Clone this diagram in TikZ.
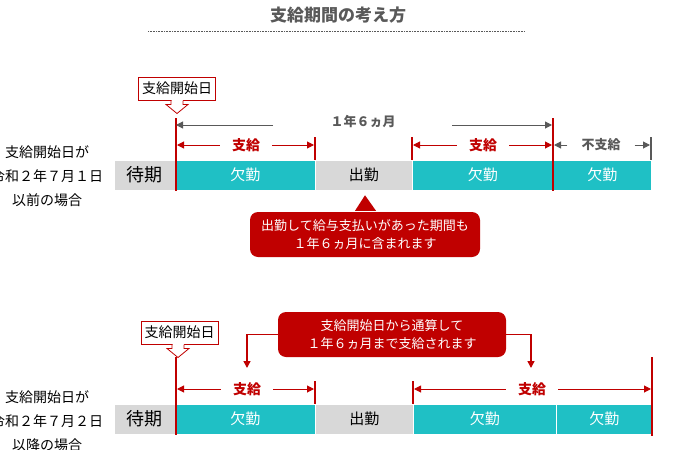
\documentclass[tikz,border=0pt]{standalone}
\usepackage{fontspec}
\setmainfont{Noto Sans CJK JP}
\usetikzlibrary{arrows.meta}
\definecolor{myred}{RGB}{192,0,0}
\definecolor{tealc}{RGB}{31,192,197}
\definecolor{lgray}{RGB}{216,216,216}
\definecolor{dgray}{RGB}{89,89,89}
\begin{document}
\begin{tikzpicture}[x=1pt,y=-1pt,
  bar/.style={minimum height=30pt, inner sep=0pt, anchor=west, draw=white, line width=0.5pt},
  waitbar/.style={bar, fill=lgray, font=\fontsize{18}{18}\selectfont},
  workbar/.style={bar, fill=lgray, font=\fontsize{15}{15}\selectfont},
  absbar/.style={bar, fill=tealc, text=white, font=\fontsize{15}{15}\selectfont},
  redline/.style={myred, line width=2pt},
  rarrow/.style={myred, line width=1pt, -{Triangle[length=7pt,width=7pt]}},
  garrow/.style={dgray, line width=1pt, -{Triangle[length=7pt,width=7pt]}},
  redlabel/.style={text=myred, font=\fontsize{14}{14}\selectfont\bfseries, inner sep=0pt},
  graylabel/.style={text=dgray, font=\fontsize{13}{13}\selectfont\bfseries, inner sep=0pt},
  startbox/.style={draw=myred, line width=1pt, fill=white, inner sep=2pt, minimum width=77pt, minimum height=23pt, font=\fontsize{14}{14}\selectfont},
  redcall/.style={fill=myred, rounded corners=8pt, text=white, align=center, font=\fontsize{13}{18}\selectfont, inner sep=0pt},
  lbl/.style={align=center, font=\fontsize{14}{24}\selectfont, inner sep=0pt}
]
\useasboundingbox (0,0) rectangle (675,450);

% title
\node[text=dgray, font=\fontsize{17}{17}\selectfont\bfseries] (title) at (338,15) {支給期間の考え方};
\coordinate (dl) at (148,31);
\coordinate (dr) at (525,31);
\draw[dgray, line width=0.7pt, dash pattern=on 0.8pt off 0.8pt] (dl) -- (dr);

% ===== top section =====
\node[lbl] (t1) at (47,176) {支給開始日が\\令和２年７月１日\\以前の場合};

\node[waitbar, minimum width=61pt] (w1) at (114,175) {待期};
\node[absbar, minimum width=140pt] (a1) at (175,175) {欠勤};
\node[workbar, minimum width=97pt] (o1) at (315,175) {出勤};
\node[absbar, minimum width=141pt] (a2) at (412,175) {欠勤};
\node[absbar, minimum width=98pt] (a3) at (553,175) {欠勤};

\coordinate (A1) at (176,118); \coordinate (A1b) at (176,191);
\coordinate (B1) at (315,137); \coordinate (B1b) at (315,160);
\coordinate (C1) at (412,137); \coordinate (C1b) at (412,160);
\coordinate (D1) at (553,118); \coordinate (D1b) at (553,191);
\coordinate (E1) at (651,137); \coordinate (E1b) at (651,160);
\draw[redline] (A1) -- (A1b);
\draw[redline] (B1) -- (B1b);
\draw[redline] (C1) -- (C1b);
\draw[redline] (D1) -- (D1b);
\draw[dgray, line width=1.5pt] (E1) -- (E1b);

% start callout
\node[startbox] (s1) at (177,88.5) {支給開始日};
\fill[white] ([xshift=-5.5pt,yshift=1pt]s1.south) rectangle ([xshift=5.5pt,yshift=-1pt]s1.south);
\draw[myred, line width=0.8pt, fill=white] ([xshift=-6pt]s1.south) -- ++(0,4) -- ++(-5,0) -- ++(11,9) -- ++(11,-9) -- ++(-5,0) -- ++(0,-4);

% 1年6ヵ月
\node[graylabel, font=\fontsize{13}{13}\selectfont\bfseries] (p1) at (363,122) {１年６ヵ月};
\draw[garrow] (273,125) -- (A1 |- 0,125);
\draw[garrow] (452,125) -- ([xshift=-1pt]D1 |- 0,125);

% 支給 labels
\node[redlabel] (k1) at (246,145) {支給};
\draw[rarrow] ([xshift=-12pt]k1.west) -- ([xshift=1pt]A1 |- k1);
\draw[rarrow] ([xshift=12pt]k1.east) -- ([xshift=-1pt]B1 |- k1);
\node[redlabel] (k2) at (483,145) {支給};
\draw[rarrow] ([xshift=-12pt]k2.west) -- ([xshift=1pt]C1 |- k2);
\draw[rarrow] ([xshift=12pt]k2.east) -- ([xshift=-1pt]D1 |- k2);
\node[graylabel] (n1) at (601,145) {不支給};
\draw[garrow] ([xshift=-14pt]n1.west) -- ([xshift=1pt]D1 |- n1);
\draw[garrow] ([xshift=14pt]n1.east) -- ([xshift=-1pt]E1 |- n1);

% red callout 1
\node[redcall, minimum width=230pt, minimum height=45pt] (c1) at (365,234.5) {出勤して給与支払いがあった期間も\\１年６ヵ月に含まれます};
\fill[myred] ([xshift=-10pt,yshift=1pt]c1.north) -- ([yshift=-5pt]o1.south -| c1.north) -- ([xshift=11pt,yshift=1pt]c1.north) -- cycle;

% ===== bottom section =====
\node[lbl] (t2) at (47,421) {支給開始日が\\令和２年７月２日\\以降の場合};

\node[waitbar, minimum width=61pt] (w2) at (114,419) {待期};
\node[absbar, minimum width=140pt] (b1) at (175,419) {欠勤};
\node[workbar, minimum width=98pt] (o2) at (315,419) {出勤};
\node[absbar, minimum width=143pt] (b2) at (413,419) {欠勤};
\node[absbar, minimum width=96pt] (b3) at (556,419) {欠勤};

\coordinate (A2) at (176,357); \coordinate (A2b) at (176,435);
\coordinate (B2) at (315,381); \coordinate (B2b) at (315,404);
\coordinate (C2) at (413,381); \coordinate (C2b) at (413,404);
\coordinate (D2) at (652,357); \coordinate (D2b) at (652,436);
\draw[redline] (A2) -- (A2b);
\draw[redline] (B2) -- (B2b);
\draw[redline] (C2) -- (C2b);
\draw[redline] (D2) -- (D2b);

\node[startbox] (s2) at (179.5,332.5) {支給開始日};
\fill[white] ([xshift=-7pt,yshift=1pt]s2.south) rectangle ([xshift=4pt,yshift=-1pt]s2.south);
\draw[myred, line width=0.8pt, fill=white] ([xshift=-7.5pt]s2.south) -- ++(0,4) -- ++(-5,0) -- ++(11,9) -- ++(11,-9) -- ++(-5,0) -- ++(0,-4);

\node[redlabel] (k3) at (247,389) {支給};
\draw[rarrow] ([xshift=-12pt]k3.west) -- ([xshift=1pt]A2 |- k3);
\draw[rarrow] ([xshift=12pt]k3.east) -- ([xshift=-1pt]B2 |- k3);
\node[redlabel] (k4) at (532,389) {支給};
\draw[rarrow] ([xshift=-12pt]k4.west) -- ([xshift=1pt]C2 |- k4);
\draw[rarrow] ([xshift=12pt]k4.east) -- ([xshift=-1pt]D2 |- k4);

% red callout 2
\node[redcall, minimum width=228pt, minimum height=45pt] (c2) at (392,334.5) {支給開始日から通算して\\１年６ヵ月まで支給されます};
\coordinate (T1) at (247,368);
\coordinate (T2) at (531,368);
\draw[rarrow, line width=1.5pt] ([xshift=1pt]c2.west) -| (T1);
\draw[rarrow, line width=1.5pt] ([xshift=-1pt]c2.east) -| (T2);
\end{tikzpicture}
\end{document}
